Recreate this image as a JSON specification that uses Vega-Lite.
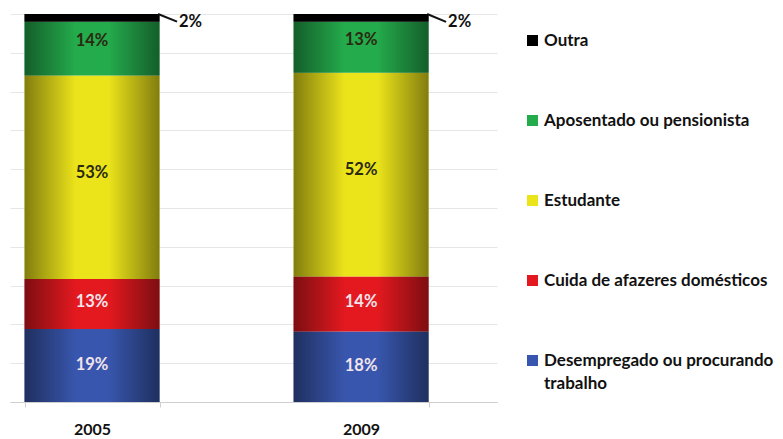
{
  "$schema": "https://vega.github.io/schema/vega-lite/v6.json",
  "width": 487,
  "height": 388,
  "autosize": "none",
  "padding": {"left": 10, "top": 14, "right": 286, "bottom": 37},
  "background": "white",
  "config": {
    "view": {"stroke": null},
    "font": "Lato",
    "text": {"font": "Lato", "fontWeight": "bold"}
  },
  "data": {
    "values": [
      {"year": "2005", "cat": "Desempregado ou procurando trabalho", "order": 1, "value": 0.19},
      {"year": "2005", "cat": "Cuida de afazeres domésticos", "order": 2, "value": 0.13},
      {"year": "2005", "cat": "Estudante", "order": 3, "value": 0.53},
      {"year": "2005", "cat": "Aposentado ou pensionista", "order": 4, "value": 0.14},
      {"year": "2005", "cat": "Outra", "order": 5, "value": 0.02},
      {"year": "2009", "cat": "Desempregado ou procurando trabalho", "order": 1, "value": 0.18},
      {"year": "2009", "cat": "Cuida de afazeres domésticos", "order": 2, "value": 0.14},
      {"year": "2009", "cat": "Estudante", "order": 3, "value": 0.52},
      {"year": "2009", "cat": "Aposentado ou pensionista", "order": 4, "value": 0.13},
      {"year": "2009", "cat": "Outra", "order": 5, "value": 0.02}
    ]
  },
  "encoding": {
    "x": {
      "field": "year",
      "type": "nominal",
      "scale": {"paddingInner": 0.498, "paddingOuter": 0.154, "align": 0.175},
      "axis": {
        "title": null,
        "labelAngle": 0,
        "labelFont": "Lato",
        "labelFontWeight": "bold",
        "labelFontSize": 16,
        "labelColor": "#111111",
        "labelPadding": 14,
        "domainColor": "#cfcfcf",
        "tickColor": "#cfcfcf",
        "tickSize": 5,
        "tickBand": "extent",
        "grid": false
      }
    }
  },
  "layer": [
    {
      "mark": {"type": "bar"},
      "encoding": {
        "y": {
          "field": "value",
          "type": "quantitative",
          "stack": "normalize",
          "axis": {
            "title": null,
            "labels": false,
            "ticks": false,
            "domain": false,
            "grid": true,
            "gridColor": "#e6e6e6",
            "values": [0, 0.1, 0.2, 0.3, 0.4, 0.5, 0.6, 0.7, 0.8, 0.9, 1]
          }
        },
        "color": {
          "field": "cat",
          "type": "nominal",
          "scale": {
            "domain": ["Outra", "Aposentado ou pensionista", "Estudante", "Cuida de afazeres domésticos", "Desempregado ou procurando trabalho"],
            "range": ["#000000", "#24ab4c", "#ece41a", "#e3191f", "#3856ad"]
          },
          "legend": {
            "title": null,
            "orient": "none",
            "legendX": 514,
            "legendY": 18,
            "symbolType": "square",
            "symbolSize": 121,
            "symbolStrokeWidth": 0,
            "labelFont": "Lato",
            "labelFontWeight": "bold",
            "labelFontSize": 17,
            "labelColor": "#111111",
            "labelLimit": 320,
            "labelOffset": 3,
            "rowPadding": 62,
            "labelExpr": "datum.label == 'Desempregado ou procurando trabalho' ? ['Desempregado ou procurando', 'trabalho'] : datum.label",
            "encode": {"labels": {"update": {"lineHeight": {"value": 23}}}}
          }
        },
        "order": {"field": "order", "type": "quantitative"}
      }
    },
    {
      "mark": {
        "type": "bar",
        "color": {
          "gradient": "linear",
          "x1": 0, "x2": 1, "y1": 0, "y2": 0,
          "stops": [
            {"offset": 0, "color": "rgba(0,0,0,0.45)"},
            {"offset": 0.38, "color": "rgba(0,0,0,0)"},
            {"offset": 0.62, "color": "rgba(0,0,0,0)"},
            {"offset": 1, "color": "rgba(0,0,0,0.45)"}
          ]
        }
      },
      "encoding": {
        "y": {
          "field": "value",
          "type": "quantitative",
          "stack": "normalize",
          "axis": {
            "title": null,
            "labels": false,
            "ticks": false,
            "domain": false,
            "grid": true,
            "gridColor": "#e6e6e6",
            "values": [0, 0.1, 0.2, 0.3, 0.4, 0.5, 0.6, 0.7, 0.8, 0.9, 1]
          }
        },
        "detail": {"field": "cat", "type": "nominal"},
        "order": {"field": "order", "type": "quantitative"}
      }
    },
    {
      "transform": [{"filter": "datum.cat != 'Outra'"}],
      "mark": {"type": "text", "fontSize": 16.5, "fontWeight": "bold", "baseline": "middle"},
      "encoding": {
        "y": {
          "field": "value",
          "type": "quantitative",
          "stack": "normalize",
          "bandPosition": 0.5,
          "axis": {
            "title": null,
            "labels": false,
            "ticks": false,
            "domain": false,
            "grid": true,
            "gridColor": "#e6e6e6",
            "values": [0, 0.1, 0.2, 0.3, 0.4, 0.5, 0.6, 0.7, 0.8, 0.9, 1]
          }
        },
        "detail": {"field": "cat", "type": "nominal"},
        "order": {"field": "order", "type": "quantitative"},
        "text": {"field": "value", "type": "quantitative", "format": ".0%"},
        "color": {
          "condition": {"test": "datum.cat == 'Cuida de afazeres domésticos' || datum.cat == 'Desempregado ou procurando trabalho'", "value": "#f3e4ee"},
          "value": "#2a2a12"
        }
      }
    },
    {
      "transform": [
        {"stack": "value", "groupby": ["year"], "sort": [{"field": "order", "order": "ascending"}], "offset": "normalize", "as": ["y0", "y1"]},
        {"filter": "datum.cat == 'Outra'"}
      ],
      "layer": [
        {
          "mark": {"type": "rule", "color": "#111111", "strokeWidth": 2, "xOffset": 66, "x2Offset": 85},
          "encoding": {
            "x2": {"field": "year"},
            "y": {
              "field": "y1",
              "type": "quantitative",
              "axis": {
                "title": null,
                "labels": false,
                "ticks": false,
                "domain": false,
                "grid": true,
                "gridColor": "#e6e6e6",
                "values": [0, 0.1, 0.2, 0.3, 0.4, 0.5, 0.6, 0.7, 0.8, 0.9, 1]
              }
            },
            "y2": {"field": "y0"}
          }
        },
        {
          "mark": {"type": "text", "fontSize": 16.5, "fontWeight": "bold", "align": "left", "baseline": "middle", "dx": 87, "color": "#111111"},
          "encoding": {
            "y": {
              "field": "y0",
              "type": "quantitative",
              "axis": {
                "title": null,
                "labels": false,
                "ticks": false,
                "domain": false,
                "grid": true,
                "gridColor": "#e6e6e6",
                "values": [0, 0.1, 0.2, 0.3, 0.4, 0.5, 0.6, 0.7, 0.8, 0.9, 1]
              }
            },
            "text": {"field": "value", "type": "quantitative", "format": ".0%"}
          }
        }
      ]
    }
  ]
}
